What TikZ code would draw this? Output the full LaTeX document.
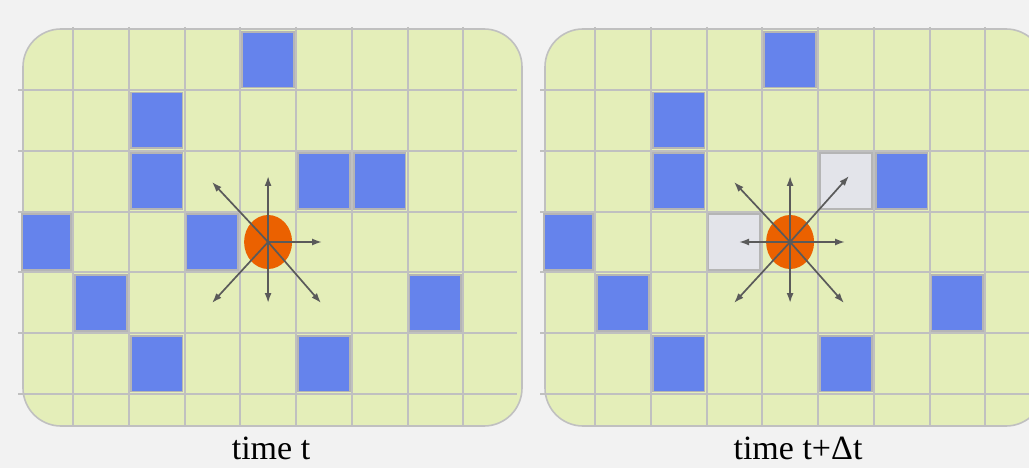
\documentclass[tikz,border=0pt]{standalone}
\usepackage{fontspec}
\setmainfont{Liberation Serif}
\usetikzlibrary{arrows.meta,shapes.geometric}
\definecolor{bgcol}{HTML}{F2F2F2}
\definecolor{cellfill}{HTML}{E4EEB9}
\definecolor{gridgrey}{HTML}{C0C0C0}
\definecolor{boxgrey}{HTML}{B5B5B5}
\definecolor{obstblue}{HTML}{6583EC}
\definecolor{freegrey}{HTML}{E3E4EA}
\definecolor{agentorange}{HTML}{EB6100}
\definecolor{arrowgrey}{HTML}{5A5A5A}
\newcommand\obstaclecell[4]{%
  \pgfmathsetmacro\xa{max(17.25+55.75*#3+2,22)+#2}%
  \pgfmathsetmacro\xb{17.25+55.75*(#3+1)-2+#2}%
  \pgfmathsetmacro\ya{29.2+60.8*#4+2.5}%
  \pgfmathsetmacro\yb{29.2+60.8*(#4+1)-2.5}%
  \draw[#1] (\xa,\ya) rectangle (\xb,\yb);}
\begin{document}
\begin{tikzpicture}[x=1pt,y=-1pt,
  panel/.style={fill=cellfill,draw=gridgrey,line width=1.6pt,rounded corners=38pt},
  gridline/.style={draw=gridgrey,line width=2pt},
  obstacle/.style={fill=obstblue,draw=boxgrey,line width=1.8pt},
  freed/.style={fill=freegrey,draw=boxgrey,line width=1.8pt},
  agent/.style={ellipse,fill=agentorange,minimum width=48pt,minimum height=54pt,inner sep=0pt},
  move/.style={draw=arrowgrey,line width=1.7pt,-{Latex[length=10pt,width=7pt]}},
  caption/.style={font=\fontsize{34}{40}\selectfont,anchor=base,inner sep=0pt}]
\useasboundingbox (0,0) rectangle (1029,468);
\fill[bgcol] (0,0) rectangle (1029,468);
\clip (0,0) rectangle (1029,468);
% panels and grids
\foreach \s in {0,522} {
  \draw[panel] (23+\s,29) rectangle (522+\s,426);
  \foreach \i in {1,...,8}
    \draw[gridline] ({17.25+55.75*\i+\s},27) -- ({17.25+55.75*\i+\s},426);
  \foreach \j in {1,...,6}
    \draw[gridline] (18+\s,{29.2+60.8*\j}) -- (517+\s,{29.2+60.8*\j});
}
% obstacles, time t
\foreach \c/\r in {4/0,2/1,2/2,5/2,6/2,0/3,3/3,1/4,7/4,2/5,5/5}
  {\obstaclecell{obstacle}{0}{\c}{\r}}
% obstacles, time t+dt
\foreach \c/\r in {4/0,2/1,2/2,6/2,0/3,1/4,7/4,2/5,5/5}
  {\obstaclecell{obstacle}{522}{\c}{\r}}
\foreach \c/\r in {5/2,3/3}
  {\obstaclecell{freed}{522}{\c}{\r}}
% agents
\node[agent] (agentL) at (268.1,242) {};
\node[agent] (agentR) at (790.1,242) {};
% move targets, time t
\coordinate (tLu) at (268.1,176);
\coordinate (tLr) at (322,242);
\coordinate (tLd) at (268.1,303);
\coordinate (tLul) at (212,182);
\coordinate (tLdl) at (212,303);
\coordinate (tLdr) at (321,303);
% move targets, time t+dt
\coordinate (tRu) at (790.1,176);
\coordinate (tRl) at (739,242);
\coordinate (tRr) at (845,242);
\coordinate (tRd) at (790.1,303);
\coordinate (tRul) at (734,182);
\coordinate (tRur) at (849,176);
\coordinate (tRdl) at (734,303);
\coordinate (tRdr) at (844,303);
\foreach \t in {tLu,tLr,tLd,tLul,tLdl,tLdr}
  \draw[move] (agentL.center) -- (\t);
\foreach \t in {tRu,tRl,tRr,tRd,tRul,tRur,tRdl,tRdr}
  \draw[move] (agentR.center) -- (\t);
% captions
\node[caption] (capL) at (271,459) {time t};
\node[caption] (capR) at (798,459) {time t+Δt};
\end{tikzpicture}
\end{document}
